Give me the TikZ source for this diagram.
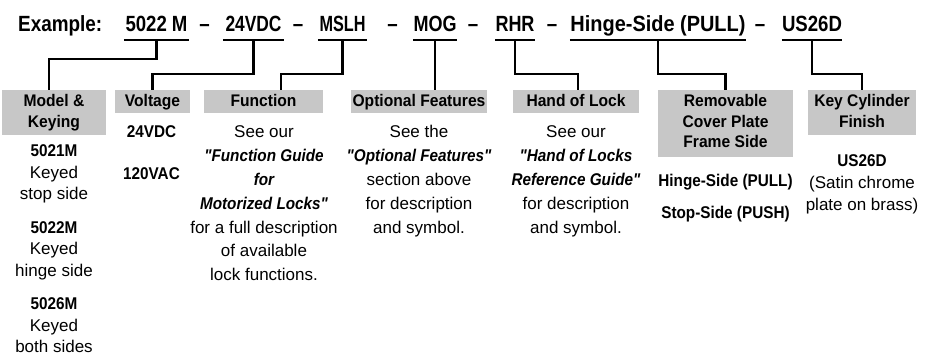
\documentclass[tikz,border=0pt]{standalone}
\usepackage{graphicx}
\usepackage{fontspec}
\setmainfont{Liberation Sans}
\newfontfamily\condB{Liberation Sans}[FakeStretch=0.9]
\newfontfamily\condH{Liberation Sans}[FakeStretch=0.93]
\newfontfamily\condT{Liberation Sans}[FakeStretch=0.85]
\definecolor{boxgray}{RGB}{199,199,199}
\newcommand\colstack[2]{\vtop{\baselineskip=#1\lineskiplimit=-100pt\lineskip=0pt\halign{\hfil##\hfil\cr#2\crcr}}}
\newcommand\fitw[2]{\resizebox{#1}{\height}{#2}}
\newcommand\vb[1]{{\condB\bfseries #1}}
\newcommand\qbi[1]{{\condB\bfseries\itshape #1}}
\tikzset{
  conn/.style={line width=2.3pt, line join=miter},
  tok/.style={inner sep=0pt, anchor=base, text depth=8.5pt, font={\condT\bfseries\fontsize{22}{26}\selectfont}},
  hdr/.style={fill=boxgray, draw=none, inner sep=0pt},
  hlab/.style={inner sep=0pt, anchor=base, font={\condH\bfseries\fontsize{16.8}{21}\selectfont}},
  body/.style={inner sep=0pt, anchor=base, font={\fontsize{17}{21}\selectfont}}
}
\begin{document}
\begin{tikzpicture}[x=1pt,y=-1pt]
\useasboundingbox (0,0) rectangle (927,358);

% title line
\node[tok, anchor=base west, text depth=0pt] (ex) at (18,31.5) {\fitw{84pt}{Example:}};
\node[tok, minimum width=65pt] (t1) at (156.5,31.5) {\fitw{62pt}{5022 M}};
\node[tok, minimum width=61pt] (t2) at (253.5,31.5) {\fitw{56pt}{24VDC}};
\node[tok, minimum width=49pt] (t3) at (342.5,31.5) {\fitw{46pt}{MSLH}};
\node[tok, minimum width=44pt] (t4) at (435,31.5) {\fitw{43pt}{MOG}};
\node[tok, minimum width=38pt] (t5) at (515,31.5) {\fitw{39pt}{RHR}};
\node[tok, minimum width=176pt] (t6) at (658,31.5) {\fitw{175pt}{Hinge-Side (PULL)}};
\node[tok, minimum width=60pt] (t7) at (812,31.5) {\fitw{60pt}{US26D}};
\node[tok, text depth=0pt] (d1) at (204.5,31.5) {–};
\node[tok, text depth=0pt] (d2) at (298,31.5) {–};
\node[tok, text depth=0pt] (d3) at (392.5,31.5) {–};
\node[tok, text depth=0pt] (d4) at (473,31.5) {–};
\node[tok, text depth=0pt] (d5) at (552,31.5) {–};
\node[tok, text depth=0pt] (d6) at (760,31.5) {–};

\foreach \t in {t1,t2,t3,t4,t5,t6,t7}
  \draw[conn] (\t.south west) -- (\t.south east);

% header boxes
\node[hdr, minimum width=104pt, minimum height=45pt] (hm) at (54,112.5) {};
\node[hdr, minimum width=75pt, minimum height=23pt] (hv) at (152.5,101.5) {};
\node[hdr, minimum width=119pt, minimum height=23pt] (hf) at (263.5,101.5) {};
\node[hdr, minimum width=136pt, minimum height=23pt] (ho) at (419,101.5) {};
\node[hdr, minimum width=126pt, minimum height=23pt] (hh) at (576,101.5) {};
\node[hdr, minimum width=135pt, minimum height=67pt] (hr) at (725.5,123.5) {};
\node[hdr, minimum width=108pt, minimum height=45pt] (hk) at (862,112.5) {};

\node[hlab] (lm) at (54,107) {\colstack{21pt}{Model \&\cr Keying}};
\node[hlab] (lv) at (152.5,106.5) {Voltage};
\node[hlab] (lf) at (263.5,106.5) {Function};
\node[hlab] (lo) at (419,106.5) {Optional Features};
\node[hlab] (lh) at (576,106.5) {Hand of Lock};
\node[hlab] (lr) at (725.5,107) {\colstack{20.5pt}{Removable\cr Cover Plate\cr Frame Side}};
\node[hlab] (lk) at (862,107) {\colstack{21pt}{Key Cylinder\cr Finish}};

% connectors
\draw[conn] (t1.south) -- ++(0,19) -| ([xshift=-5pt]hm.north);
\draw[conn] (t2.south) -- ++(0,34) -| (hv.north);
\draw[conn] (t3.south) -- ++(0,34) -| ([xshift=17.5pt]hf.north);
\draw[conn] (t4.south) -- (t4.south |- ho.north);
\draw[conn] (t5.south) -- ++(0,34) -| ([xshift=2pt]hh.north);
\draw[conn] (t6.south) -- ++(0,34) -| (hr.north);
\draw[conn] (t7.south) -- ++(0,34) -| (hk.north);

% body texts
\node[body] (bm) at (54,157) {\colstack{21.5pt}{\vb{5021M}\cr Keyed\cr stop side\cr\noalign{\vskip12pt}\vb{5022M}\cr Keyed\cr hinge side\cr\noalign{\vskip12pt}\vb{5026M}\cr Keyed\cr both sides}};
\node[body] (bv) at (151.5,138) {\colstack{42pt}{\vb{24VDC}\cr\vb{120VAC}}};
\node[body] (bf) at (264,138) {\colstack{23.8pt}{See our\cr\qbi{"Function Guide}\cr\qbi{for}\cr\qbi{Motorized Locks"}\cr for a full description\cr of available\cr lock functions.}};
\node[body] (bo) at (419,138) {\colstack{23.8pt}{See the\cr\qbi{"Optional Features"}\cr section above\cr for description\cr and symbol.}};
\node[body] (bh) at (576,138) {\colstack{23.8pt}{See our\cr\qbi{"Hand of Locks}\cr\qbi{Reference Guide"}\cr for description\cr and symbol.}};
\node[body] (br) at (725.5,187) {\colstack{32pt}{\vb{Hinge-Side (PULL)}\cr\vb{Stop-Side (PUSH)}}};
\node[body] (bk) at (862,167) {\colstack{22pt}{\vb{US26D}\cr (Satin chrome\cr plate on brass)}};
\end{tikzpicture}
\end{document}
